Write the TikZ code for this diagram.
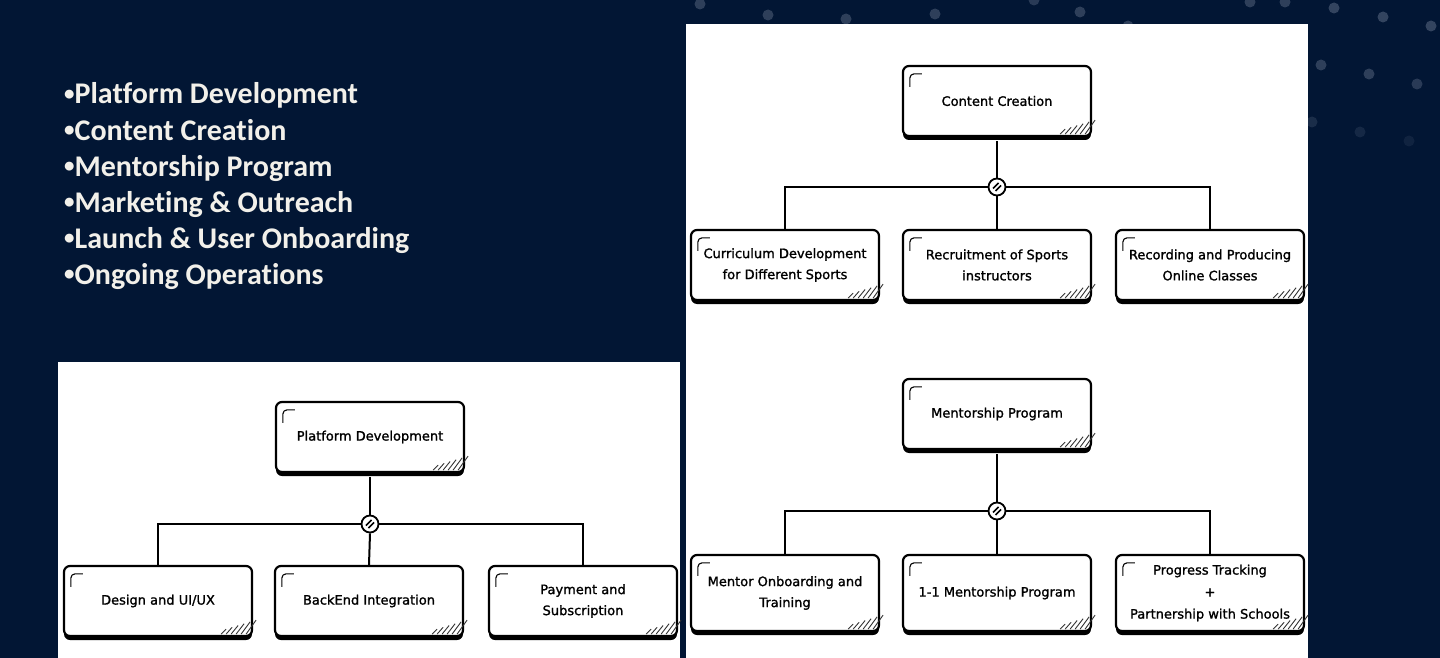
\documentclass[tikz,border=0pt]{standalone}
\usepackage{fontspec}
\setmainfont[Ligatures={NoCommon}]{Carlito}
\newfontfamily\boxfont[BoldFont={DejaVu Sans}, BoldFeatures={FakeBold=1.3}]{DejaVu Sans}
\usetikzlibrary{shadows,calc}
\definecolor{navy}{HTML}{021634}
\definecolor{dotc}{HTML}{33445F}
\definecolor{bullettext}{HTML}{F2F0EA}
\tikzset{
  sketchbox/.style={draw=black, line width=2.2pt, rounded corners=6pt, fill=white,
    minimum width=188pt, minimum height=70pt, align=center, inner sep=3pt,
    font=\boxfont\bfseries\fontsize{13}{21}\selectfont,
    drop shadow={shadow xshift=0pt, shadow yshift=-4pt, opacity=1, fill=black}},
  junction/.style={circle, draw=black, line width=1.8pt, fill=white, minimum size=17pt, inner sep=0pt},
  conn/.style={line width=2pt, draw=black},
  bullet/.style={anchor=base west, text=bullettext, font=\bfseries\fontsize{30}{32}\selectfont, inner sep=0pt},
  dot/.style={fill=dotc, draw=none},
  panel/.style={fill=white, draw=none}
}
\newcommand{\bul}{\raisebox{0.12em}{\scalebox{0.7}{•}}}
\newcommand{\decorbox}[1]{%
  \draw[line width=1.1pt, rounded corners=4pt] ($(#1.north west)+(8,22)$) |- ($(#1.north west)+(20,9)$);
  \foreach \i in {0,...,5} {
    \draw[line width=0.9pt, black!80] ($(#1.south east)+(-7-5*\i,-3)$) -- ++(10-\i,-14+1.8*\i);
  }
}
\newcommand{\junctionmark}[1]{%
  \draw[line width=1.6pt] ($(#1)+(-4,1.5)$) -- ($(#1)+(1.5,-4)$);
  \draw[line width=1.6pt] ($(#1)+(-1.5,4)$) -- ($(#1)+(4,-1.5)$);
}
\begin{document}
\begin{tikzpicture}[x=1pt,y=-1pt]
\useasboundingbox (0,0) rectangle (1440,658);
\fill[navy] (0,0) rectangle (1440,658);
% decorative dots
\foreach \px/\py/\op in {700/4/0.9, 768/15/0.9, 846/19/0.9, 935/14/0.9, 1034/0/0.8, 1080/12/0.9, 1128/26/0.9, 1250/2/0.9, 1285/2/0.9,
  1334/8/1, 1383/17/1, 1431/26/1, 1321/65/0.9, 1369/74/0.9, 1417/84/0.8, 1312/122/0.5, 1360/132/0.4, 1409/141/0.3}
  \fill[dot, opacity=\op] (\px,\py) circle (5.5);
% panels
\fill[panel] (58,362) rectangle (680,658);
\fill[panel] (686,24) rectangle (1308,658);
% bullet list
\node[bullet] (b1) at (64,104) {\bul Platform Development};
\node[bullet] (b2) at (64,140) {\bul Content Creation};
\node[bullet] (b3) at (64,176) {\bul Mentorship Program};
\node[bullet] (b4) at (64,212) {\bul Marketing \& Outreach};
\node[bullet] (b5) at (64,248) {\bul Launch \& User Onboarding};
\node[bullet] (b6) at (64,284) {\bul Ongoing Operations};
% Platform Development tree
\node[sketchbox] (pd) at (370,437) {Platform Development};
\node[junction] (pdj) at (370,524) {};
\node[sketchbox] (pd1) at (158,601) {Design and UI/UX};
\node[sketchbox] (pd2) at (369,601) {BackEnd Integration};
\node[sketchbox] (pd3) at (583,601) {Payment and\\Subscription};
% Content Creation tree
\node[sketchbox] (cc) at (997,101) {Content Creation};
\node[junction] (ccj) at (997,187) {};
\node[sketchbox] (cc1) at (785,265) {Curriculum Development\\for Different Sports};
\node[sketchbox] (cc2) at (997,265) {Recruitment of Sports\\instructors};
\node[sketchbox] (cc3) at (1210,265) {Recording and Producing\\Online Classes};
% Mentorship tree
\node[sketchbox] (mp) at (997,414) {Mentorship Program};
\node[junction] (mpj) at (997,511) {};
\node[sketchbox, minimum height=76pt] (mp1) at (785,593) {Mentor Onboarding and\\Training};
\node[sketchbox, minimum height=76pt] (mp2) at (997,593) {1-1 Mentorship Program};
\node[sketchbox, minimum height=76pt, font=\boxfont\bfseries\fontsize{13}{22}\selectfont] (mp3) at (1210,593) {Progress Tracking\\+\\Partnership with Schools};
% connectors
\foreach \r/\j/\a/\b/\c in {pd/pdj/pd1/pd2/pd3, cc/ccj/cc1/cc2/cc3, mp/mpj/mp1/mp2/mp3} {
  \draw[conn] ([yshift=-4pt]\r.south) -- (\j.north);
  \draw[conn, line cap=round] (\j.west) -- (\j -| \a) -- (\a.north);
  \draw[conn, line cap=round] (\j.east) -- (\j -| \c) -- (\c.north);
  \draw[conn] (\j.south) -- (\b.north);
}
\foreach \j in {pdj, ccj, mpj} { \junctionmark{\j} }
\foreach \n in {pd, pd1, pd2, pd3, cc, cc1, cc2, cc3, mp, mp1, mp2, mp3} { \decorbox{\n} }
\end{tikzpicture}
\end{document}
